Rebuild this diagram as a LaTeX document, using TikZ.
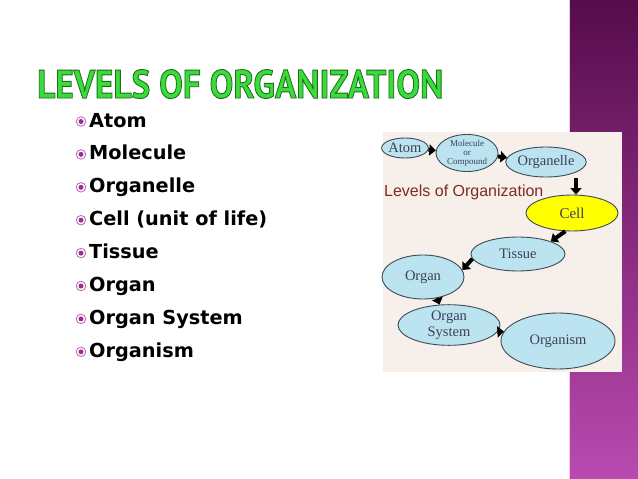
\documentclass[tikz,border=0pt]{standalone}
\usepackage{fontspec}
\setmainfont{Liberation Serif}
\newfontfamily\bulletfont{DejaVu Sans}
\newfontfamily\titlefont{PT Sans}
\newfontfamily\labelfont{Liberation Sans}
\usetikzlibrary{shapes.geometric,arrows.meta}
\definecolor{barTop}{HTML}{560C4C}
\definecolor{barBot}{HTML}{BA4AB0}
\definecolor{barEdge}{HTML}{EBCDE4}
\definecolor{panelbg}{HTML}{F7EFE9}
\definecolor{cellblue}{HTML}{BCE3F0}
\definecolor{cellyellow}{HTML}{FFFF00}
\definecolor{rimgray}{HTML}{3E4A55}
\definecolor{inktext}{HTML}{3E4058}
\definecolor{levred}{HTML}{7E2C24}
\definecolor{titlegreen}{HTML}{3ADC3A}
\definecolor{ringpink}{HTML}{C070B8}
\definecolor{dotpurple}{HTML}{9C2C90}
\tikzset{
  lvl/.style={ellipse, draw=rimgray, line width=0.9pt, fill=cellblue, inner sep=0pt,
    text=inktext, font=\fontsize{14.5}{15}\selectfont},
  conn/.style={line width=4pt, -{Triangle[length=6.5pt,width=11pt]}},
  bullettext/.style={anchor=base west, inner sep=0pt, font=\bulletfont\bfseries\fontsize{19.3}{22}\selectfont},
  bulletmark/.style={circle, draw=ringpink, line width=0.9pt, minimum size=9.5pt, inner sep=0pt,
    path picture={\fill[dotpurple] (path picture bounding box.center) circle (2.5pt);}}
}
\begin{document}
\begin{tikzpicture}[x=1pt,y=-1pt]
\useasboundingbox (0,0) rectangle (638,479);
\fill[white] (0,0) rectangle (638,479);
% purple side bar
\shade[top color=barTop, bottom color=barBot] (569,0) rectangle (638,479);
\draw[barEdge, line width=1.2pt] (569.6,0) -- (569.6,479);
% title
\node[anchor=base west, inner sep=0pt] (title) at (37,98)
  {\resizebox{406pt}{28.5pt}{\titlefont\bfseries\fontsize{40}{40}\selectfont\color{titlegreen}\special{pdf:literal direct 0.12 0.42 0.12 RG 0.9 w 2 Tr}LEVELS OF ORGANIZATION\special{pdf:literal direct 0 Tr}}};
% bullet list
\foreach \t [count=\i] in {Atom,Molecule,Organelle,Cell (unit of life),Tissue,Organ,Organ System,Organism}{
  \node[bullettext] (t\i) at (89,{127+32.9*(\i-1)}) {\t};
  \node[bulletmark] (b\i) at (81,{121.5+32.9*(\i-1)}) {};
}
% picture panel
\fill[panelbg] (383,132) rectangle (622,372);
\node[anchor=base west, inner sep=0pt, text=levred, font=\labelfont\fontsize{16}{18}\selectfont] (lev) at (384,196.5) {Levels of Organization};
\node[lvl, minimum width=44pt, minimum height=20pt] (atom) at (405,148) {Atom};
\node[lvl, minimum width=62pt, minimum height=30pt, align=center, font=\fontsize{9}{9}\selectfont] (mol) at (467,153) {Molecule\\or\\Compound};
\node[lvl, minimum width=74pt, minimum height=30pt] (organelle) at (546,162) {Organelle};
\node[lvl, fill=cellyellow, minimum width=92pt, minimum height=36pt, font=\fontsize{15}{16}\selectfont] (cell) at (572,213) {Cell};
\node[lvl, minimum width=94pt, minimum height=34pt] (tissue) at (518,254) {Tissue};
\node[lvl, minimum width=82pt, minimum height=44pt] (organ) at (423,277) {Organ};
\node[lvl, minimum width=102pt, minimum height=40pt, align=center, font=\fontsize{14.5}{16}\selectfont] (os) at (449,325) {Organ\\System};
\node[lvl, minimum width=114pt, minimum height=56pt] (organism) at (558,341) {Organism};
% connectors
\draw[conn] (atom) -- (mol);
\draw[conn] (mol) -- (organelle);
\draw[conn] ([xshift=30pt,yshift=-1pt]organelle.south) -- ([xshift=4pt]cell.north);
\draw[conn] (cell.250) -- (tissue.21);
\draw[conn] (tissue.186) -- (organ.10);
\draw[conn] (organ.-56) -- (os.115);
\draw[conn] (os.-8) -- (organism.170);
\end{tikzpicture}
\end{document}
